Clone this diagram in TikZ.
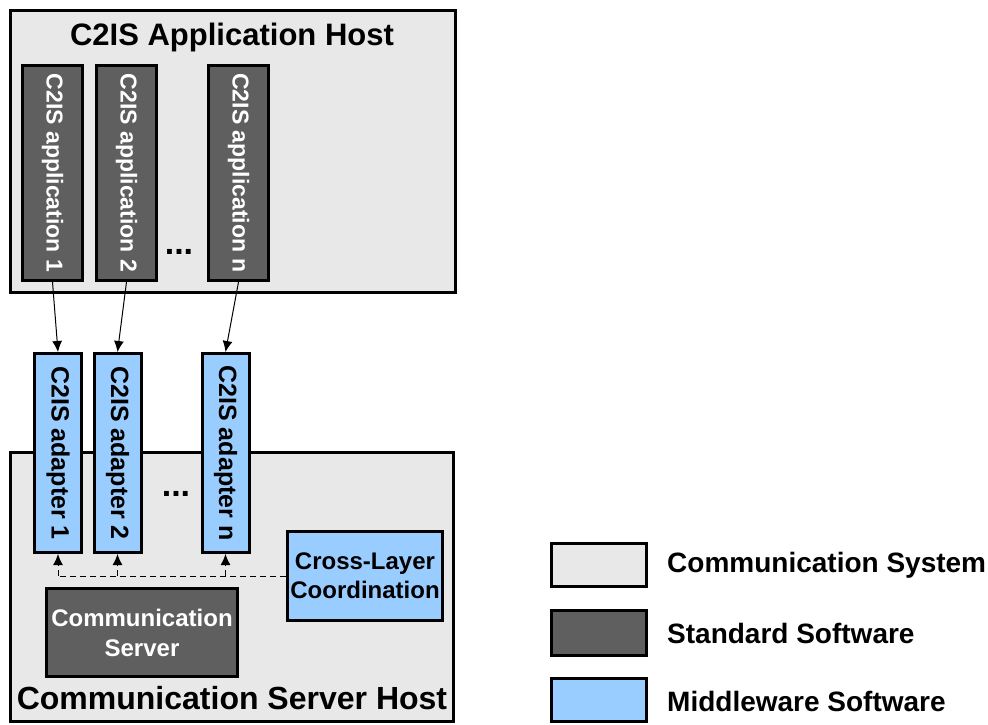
\documentclass[tikz,border=0pt]{standalone}
\usepackage{fontspec}
\setmainfont{Liberation Sans}
\usetikzlibrary{arrows.meta}
\definecolor{sysgray}{HTML}{E8E8E8}
\definecolor{stdgray}{HTML}{5F5F5F}
\definecolor{mwblue}{HTML}{99CCFF}
\newcommand{\fs}[2]{\fontsize{#1}{#2}\selectfont\bfseries}
\begin{document}
\begin{tikzpicture}[x=1pt,y=-1pt,
  box/.style={draw=black,line width=3pt,inner sep=0pt,minimum width=#1},
  sysbox/.style={box=#1,fill=sysgray},
  stdbox/.style={box=#1,fill=stdgray,text=white},
  mwbox/.style={box=#1,fill=mwblue,text=black},
  vtext/.style={rotate=-90},
  conn/.style={line width=1pt,-{Latex[length=11pt,width=10pt]}},
  dconn/.style={line width=1pt,dash pattern=on 6pt off 4pt,-{Latex[length=11pt,width=10pt]}},
  lbl/.style={inner sep=0pt,text=black}]
\useasboundingbox (0,0) rectangle (988,724);

% application host
\node[sysbox=445,minimum height=282] (apphost) at (232.5,151) {};
\node[lbl,font=\fs{31}{37}] (apptitle) at (232,37) {C2IS Application Host};
\node[stdbox=60,minimum height=215] (app1) at (52.5,173) {};
\node[stdbox=60,minimum height=215] (app2) at (126.5,173) {};
\node[stdbox=60,minimum height=215] (appn) at (238.5,173) {};
\node[vtext,text=white,font=\fs{23}{28}] (app1t) at (app1) {C2IS application 1};
\node[vtext,text=white,font=\fs{23}{28}] (app2t) at (app2) {C2IS application 2};
\node[vtext,text=white,font=\fs{23}{28}] (appnt) at (appn) {C2IS application n};
\node[lbl,font=\fs{34}{40}] (appdots) at (179,252) {...};

% communication server host
\node[sysbox=443.5,minimum height=269.5] (srvhost) at (232,587) {};
\node[lbl,font=\fs{32}{38}] (srvtitle) at (232,698) {Communication Server Host};
\node[mwbox=47,minimum height=199] (ad1) at (58,453) {};
\node[mwbox=47,minimum height=199] (ad2) at (117.5,453) {};
\node[mwbox=47,minimum height=199] (adn) at (225.5,453) {};
\node[vtext,font=\fs{25}{30}] (ad1t) at (ad1) {C2IS adapter 1};
\node[vtext,font=\fs{25}{30}] (ad2t) at (ad2) {C2IS adapter 2};
\node[vtext,font=\fs{25}{30}] (adnt) at (adn) {C2IS adapter n};
\node[lbl,font=\fs{34}{40}] (addots) at (176,494) {...};
\node[mwbox=155,minimum height=89,align=center,font=\fs{24}{29}] (cross) at (365,576) {Cross-Layer\\Coordination};
\node[stdbox=191,minimum height=88,align=center,font=\fs{24}{30}] (comm) at (142,632.5) {Communication\\Server};

% application to adapter links
\draw[conn] (app1.south) -- (ad1.north);
\draw[conn] (app2.south) -- (ad2.north);
\draw[conn] (appn.south) -- (adn.north);

% cross-layer coordination bus
\coordinate (b1) at (ad1.south |- cross.west);
\coordinate (b2) at (ad2.south |- cross.west);
\coordinate (bn) at (adn.south |- cross.west);
\draw[line width=1pt,dash pattern=on 6pt off 4pt] (cross.west) -- (b1);
\draw[dconn] (b1) -- (ad1.south);
\draw[dconn] (b2) -- (ad2.south);
\draw[dconn] (bn) -- (adn.south);

% legend
\node[sysbox=95,minimum height=43] (lg1) at (599,565) {};
\node[stdbox=95,minimum height=45] (lg2) at (599,633) {};
\node[mwbox=95,minimum height=43] (lg3) at (599,700) {};
\node[lbl,anchor=west,font=\fs{28}{33}] (lg1t) at (667,565) {Communication System};
\node[lbl,anchor=west,font=\fs{28}{33}] (lg2t) at (667,633) {Standard Software};
\node[lbl,anchor=west,font=\fs{28}{33}] (lg3t) at (667,701) {Middleware Software};
\end{tikzpicture}
\end{document}
